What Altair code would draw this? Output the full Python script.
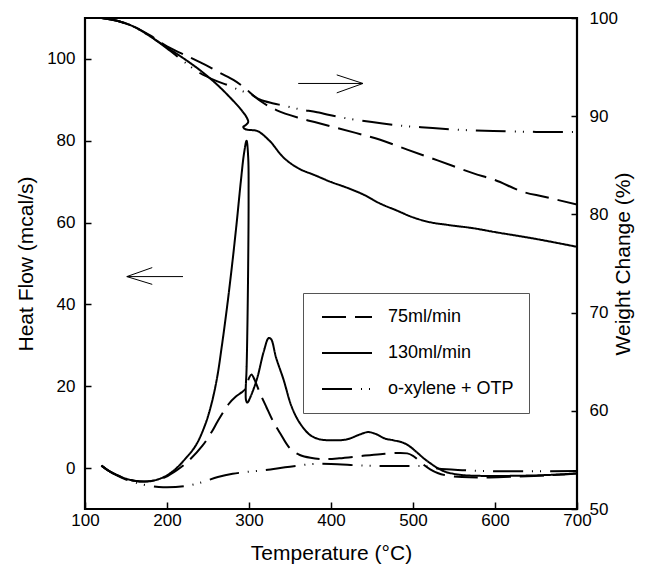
import altair as alt
import pandas as pd

# ---------------- data ----------------
series_names = ["75ml/min", "130ml/min", "o-xylene + OTP"]

# Heat flow (left axis, mcal/s)
hf130_T = [120, 130, 140, 150, 160, 173, 185, 198, 210, 222, 235, 246, 254, 261, 267, 273, 279, 285, 290, 294,
           297, 299, 299.5, 299, 298, 297, 296, 296.5, 298, 302, 310, 318, 324, 327, 333, 342, 352, 362, 375, 387,
           400, 419, 435, 445, 455, 466, 476, 488, 496, 505, 513, 521, 530, 541, 560, 582, 620, 663, 700]
hf130_H = [0.6, -0.8, -1.8, -2.6, -3.1, -3.3, -3.0, -2.0, -0.3, 2.2, 5.5, 10.3, 15.5, 22, 30, 39, 49, 60, 70, 77,
           80, 76, 66, 50, 34, 24, 19, 16.5, 16, 17.5, 22, 28.5, 31.8, 31.5, 27, 21.7, 15, 11, 8, 7,
           6.8, 7, 8.2, 8.8, 8.3, 7.2, 6.8, 6.2, 5.3, 3.8, 2.4, 1.2, 0.0, -1.0, -1.7, -1.9, -1.9, -1.7, -1.3]

hf75_T = [120, 130, 140, 150, 160, 173, 185, 198, 212, 226, 243, 255, 262, 275, 284, 291, 296, 300, 303, 307,
          313, 321, 330, 338, 350, 362, 375, 390, 410, 439, 460, 480, 493, 500, 505, 513, 521, 530, 541, 560,
          582, 620, 663, 700]
hf75_H = [0.6, -0.8, -1.8, -2.6, -3.1, -3.3, -3.0, -2.2, -0.5, 1.7, 5.4, 9, 11.5, 15.6, 17.5, 18.5, 19.5, 22, 22.9, 21.5,
          18.5, 15, 11.2, 8.5, 4.8, 3.2, 2.5, 2.2, 2.4, 3.0, 3.4, 3.7, 3.6, 3.0, 2.2, 0.8, -0.3, -1.2, -1.8, -2.2,
          -2.3, -2.1, -1.8, -1.3]

hfox_T = [120, 130, 140, 150, 160, 175, 190, 200, 222, 240, 262, 280, 295, 320, 344, 360, 378, 400, 439, 470,
          500, 515, 521, 541, 560, 585, 640, 700]
hfox_H = [0.6, -0.8, -1.9, -2.8, -3.5, -4.2, -4.6, -4.7, -4.4, -3.6, -2.2, -1.4, -1.0, -0.5, 0.2, 0.6, 1.0, 1.0, 0.6, 0.5,
          0.5, 0.5, 0.2, -0.3, -0.5, -0.7, -0.8, -0.7]

# Weight change (right axis, %)
w130_T = [120, 140, 160, 180, 200, 220, 240, 260, 277, 290, 297, 299, 296, 293, 295, 300, 310, 325, 342, 360,
          380, 400, 420, 440, 460, 480, 500, 521, 545, 573, 600, 650, 700]
w130_W = [100.0, 99.7, 99.1, 98.1, 97.0, 95.9, 94.7, 93.3, 91.9, 90.7, 89.9, 89.4, 89.1, 88.9, 88.7, 88.6, 88.5, 87.5,
          85.8, 84.7, 84.0, 83.3, 82.7, 82.0, 81.1, 80.4, 79.7, 79.2, 78.9, 78.6, 78.2, 77.5, 76.7]

w75_T = [120, 140, 160, 180, 200, 220, 240, 252, 265, 281, 293, 313, 334, 362, 380, 403, 430, 460, 493, 530,
         573, 600, 634, 660, 700]
w75_W = [100.0, 99.7, 99.1, 98.2, 97.1, 96.3, 95.5, 95.0, 94.4, 93.7, 93.0, 91.6, 90.6, 89.8, 89.4, 88.9, 88.3,
         87.6, 86.6, 85.5, 84.2, 83.5, 82.3, 81.8, 81.0]

wox_T = [120, 140, 160, 180, 200, 220, 240, 260, 273, 290, 301, 313, 330, 341, 362, 383, 411, 450, 490, 524,
         560, 598, 650, 700]
wox_W = [100.0, 99.7, 99.1, 98.1, 96.9, 95.6, 94.4, 93.6, 93.2, 92.6, 92.3, 91.7, 91.3, 91.1, 90.7, 90.4, 89.9,
         89.4, 89.0, 88.8, 88.6, 88.5, 88.4, 88.4]

# Annotation arrows (left-axis units): segments T,H -> T2,H2
arrow_T = [360, 439, 439, 151, 151, 151]
arrow_H = [94.0, 94.0, 94.0, 46.8, 46.8, 46.8]
arrow_T2 = [439, 407, 407, 219.5, 182, 182]
arrow_H2 = [94.0, 96.1, 91.7, 46.8, 49.0, 44.9]

x_ticks = [100, 200, 300, 400, 500, 600, 700]
left_ticks = [0, 20, 40, 60, 80, 100]
right_ticks = [50, 60, 70, 80, 90, 100]

# ---------------- tables ----------------
def long_table(pairs, vname):
    rows = []
    for name, ts, vs in pairs:
        for i, (t, v) in enumerate(zip(ts, vs)):
            rows.append({"T": t, vname: v, "series": name, "i": i})
    return pd.DataFrame(rows)

df_hf = long_table([("75ml/min", hf75_T, hf75_H),
                    ("130ml/min", hf130_T, hf130_H),
                    ("o-xylene + OTP", hfox_T, hfox_H)], "H")
df_w = long_table([("75ml/min", w75_T, w75_W),
                   ("130ml/min", w130_T, w130_W),
                   ("o-xylene + OTP", wox_T, wox_W)], "W")
df_arrow = pd.DataFrame({"T": arrow_T, "H": arrow_H, "T2": arrow_T2, "H2": arrow_H2})

FONT = "Liberation Sans"

x_scale = alt.Scale(domain=[100, 700], nice=False, zero=False)
h_scale = alt.Scale(domain=[-10, 110], nice=False, zero=False)
w_scale = alt.Scale(domain=[50, 100], nice=False, zero=False)

x_axis = alt.Axis(values=x_ticks, title="Temperature (°C)", domain=False, offset=-7, tickSize=7,
                  labelPadding=3, titlePadding=14, labelFlush=False, format="d")
left_axis = alt.Axis(values=left_ticks, title="Heat Flow (mcal/s)", domain=False, offset=-6, tickSize=6,
                     labelPadding=10, titlePadding=10, labelFlush=False, orient="left", format="d")
right_axis = alt.Axis(values=right_ticks, title="Weight Change (%)", domain=False, offset=-6, tickSize=6,
                      labelPadding=12, titlePadding=-5, labelFlush=False, orient="right", titleAngle=-90,
                      titleBaseline="top", format="d")

dash_scale = alt.Scale(domain=series_names, range=[[24, 9], [1, 0], [30, 9, 1, 7, 1, 9]])
legend = alt.Legend(orient="none", legendX=218, legendY=275, title=None, padding=15,
                    strokeColor="#555", fillColor="white", symbolType="M-5,0H5", symbolSize=100,
                    symbolOffset=20, symbolStrokeWidth=2, symbolStrokeColor="black",
                    labelFontSize=18, labelFont=FONT, labelColor="black", labelOffset=32, rowPadding=18)

heat = alt.Chart(df_hf).mark_line(color="black", strokeWidth=2, interpolate="catmull-rom", clip=True).encode(
    x=alt.X("T:Q", scale=x_scale, axis=x_axis),
    y=alt.Y("H:Q", scale=h_scale, axis=left_axis),
    strokeDash=alt.StrokeDash("series:N", scale=dash_scale, legend=legend),
    order=alt.Order("i:Q"),
)

arrows = alt.Chart(df_arrow).mark_rule(color="black", strokeWidth=1).encode(
    x=alt.X("T:Q", scale=x_scale, axis=x_axis),
    x2="T2:Q",
    y=alt.Y("H:Q", scale=h_scale, axis=left_axis),
    y2="H2:Q",
)

weight = alt.Chart(df_w).mark_line(color="black", strokeWidth=2, interpolate="catmull-rom", clip=True).encode(
    x=alt.X("T:Q", scale=x_scale, axis=x_axis),
    y=alt.Y("W:Q", scale=w_scale, axis=right_axis),
    strokeDash=alt.StrokeDash("series:N", scale=dash_scale, legend=legend),
    order=alt.Order("i:Q"),
)

chart = alt.layer(alt.layer(heat, arrows), weight).resolve_scale(y="independent").properties(
    width=492, height=491, autosize="none", background="white",
    padding={"left": 77, "top": 10, "right": 60, "bottom": 57},
).configure_view(stroke="black", strokeWidth=2.2).configure_axis(
    grid=False, labelFont=FONT, titleFont=FONT, labelFontSize=17, titleFontSize=21,
    labelColor="black", titleColor="black", tickColor="black", tickWidth=1.5, titleFontWeight="normal",
)

chart.save("out.html", embed_options={"renderer": "svg", "actions": False})
